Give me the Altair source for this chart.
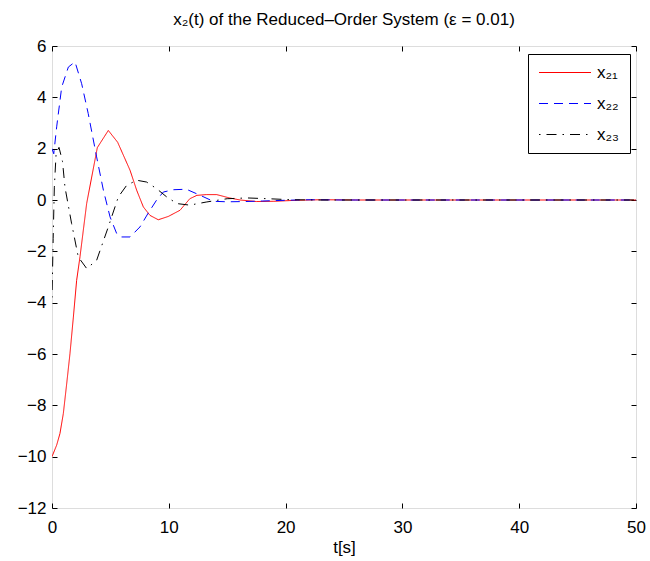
import altair as alt
import pandas as pd

# ---- data ----
names = ["x₂₁", "x₂₂", "x₂₃"]

t21 = [0, 0.4, 0.68, 0.97, 1.26, 1.54, 1.83, 2.11, 2.4, 2.97, 3.88, 4.82, 5.62, 6.68, 7.25,
       7.82, 8.39, 9.1, 9.96, 10.96, 11.8, 12.4, 13.2, 14.1, 15.2, 16.1, 17.5, 19, 21, 23, 26, 50]
x21 = [-10, -9.55, -9.1, -8.32, -7.15, -5.98, -4.56, -3.13, -2.2, -0.13, 2.04, 2.71, 2.25, 1.16, 0.38,
       -0.27, -0.6, -0.77, -0.64, -0.4, 0.05, 0.18, 0.21, 0.21, 0.08, 0.0, -0.06, -0.05, -0.01, 0.01, 0, 0]

t22 = [0, 0.15, 0.4, 0.83, 1.4, 1.97, 2.54, 3.1, 3.82, 4.4, 4.97, 5.54, 5.96, 6.68, 7.53,
       8.25, 8.96, 9.53, 10.4, 11.5, 12.7, 13.8, 15, 16.5, 18, 20, 22, 25, 50]
x22 = [2.0, 1.8, 2.85, 4.4, 5.18, 5.38, 4.53, 3.37, 1.68, 0.38, -0.66, -1.31, -1.44, -1.44, -1.05,
       -0.5, 0.0, 0.31, 0.4, 0.42, 0.18, -0.05, -0.07, -0.06, -0.04, -0.01, 0.01, 0, 0]

t23 = [0, 0.1, 0.2, 0.35, 0.6, 0.9, 1.11, 1.68, 2.25, 2.97, 3.82, 4.82, 5.68, 6.39, 7.25,
       8.1, 8.96, 9.82, 10.7, 11.8, 13.2, 15, 16.7, 18.5, 20.5, 23, 26, 50]
x23 = [-3.8, -1.5, 0.5, 1.8, 2.05, 1.5, 0.5, -0.92, -2.22, -2.67, -2.35, -1.05, 0.12, 0.57, 0.77,
       0.7, 0.44, 0.12, -0.14, -0.2, -0.08, 0.05, 0.08, 0.05, 0.01, 0, 0, 0]

x_ticks = [0, 10, 20, 30, 40, 50]
y_ticks = [-12, -10, -8, -6, -4, -2, 0, 2, 4, 6]

colors = ["#ff0000", "#0000ff", "#000000"]
dashes = [[1, 0], [9, 6], [1.5, 6, 10, 6]]

rows = []
for name, ts, vs in zip(names, [t21, t22, t23], [x21, x22, x23]):
    for t, v in zip(ts, vs):
        rows.append({"t": t, "v": v, "s": name})
df = pd.DataFrame(rows)

FONT = "Liberation Sans"
FS = 17

xscale = alt.Scale(domain=[0, 50], nice=False, zero=False)
yscale = alt.Scale(domain=[-12, 6], nice=False, zero=False)

axis_common = dict(grid=False, domain=False, tickSize=5, offset=-5, tickColor="black",
                   tickWidth=1, labelColor="black", labelFont=FONT, labelFontSize=FS,
                   labelFlush=False, labelOverlap=False)

legend = alt.Legend(title=None, orient="none", legendX=476, legendY=8,
                    strokeColor="black", fillColor="white", padding=10,
                    symbolType="stroke", symbolSize=2704, symbolStrokeWidth=1.2,
                    clipHeight=17,
                    labelFont=FONT, labelFontSize=FS, labelColor="black",
                    labelOffset=5, rowPadding=13, cornerRadius=0)

lines = alt.Chart(df).mark_line(strokeWidth=1, clip=True).encode(
    x=alt.X("t:Q", scale=xscale,
            axis=alt.Axis(values=x_ticks, title="t[s]", labelPadding=11, titlePadding=4,
                          titleFont=FONT, titleFontSize=FS, titleFontWeight="normal",
                          titleColor="black", **axis_common)),
    y=alt.Y("v:Q", scale=yscale,
            axis=alt.Axis(values=y_ticks, title=None, labelPadding=6, **axis_common)),
    color=alt.Color("s:N", scale=alt.Scale(domain=names, range=colors), legend=legend),
    strokeDash=alt.StrokeDash("s:N", scale=alt.Scale(domain=names, range=dashes), legend=legend),
)

mirror = alt.Chart(df).mark_line(opacity=0).encode(
    x=alt.X("t:Q", scale=xscale,
            axis=alt.Axis(values=x_ticks, orient="top", labels=False, title=None, **axis_common)),
    y=alt.Y("v:Q", scale=yscale,
            axis=alt.Axis(values=y_ticks, orient="right", labels=False, title=None, **axis_common)),
    detail="s:N",
)

chart = alt.layer(mirror, lines).resolve_axis(x="independent", y="independent").properties(
    width=584, height=462,
    autosize=alt.AutoSizeParams(type="none"),
    padding={"left": 52, "top": 46, "right": 14, "bottom": 53},
    title=alt.TitleParams("x₂(t) of the Reduced–Order System (ε = 0.01)", font=FONT, fontSize=FS,
                          fontWeight="normal", color="black", offset=8, anchor="middle"),
).configure_view(stroke="black", strokeWidth=1).configure(background="white")

chart.save("out.html", embed_options={"renderer": "svg", "actions": False})
